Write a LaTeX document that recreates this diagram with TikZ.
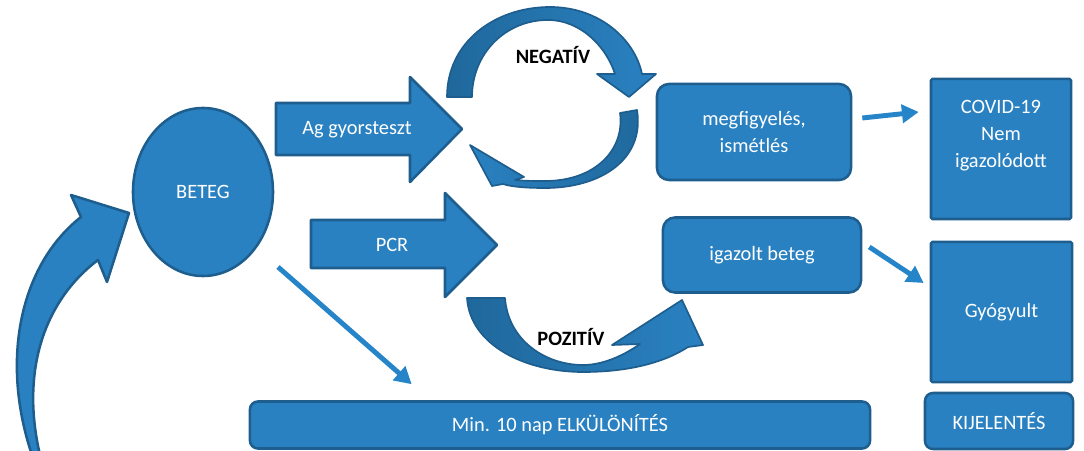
\documentclass[tikz,border=0pt]{standalone}
\usepackage{fontspec}
\setmainfont{Carlito}
\usetikzlibrary{positioning,calc,shapes.geometric,arrows.meta}
\definecolor{covidblue}{RGB}{42,129,193}
\definecolor{covidedge}{RGB}{30,94,142}
\definecolor{coviddark}{RGB}{31,104,156}
\definecolor{covidline}{RGB}{38,132,200}

\begin{document}
\begin{tikzpicture}[x=0.025cm, y=-0.025cm,
    font=\fontsize{14.5}{19}\selectfont,
    bluebox/.style={draw=covidedge, line width=1.8pt, fill=covidblue, text=white, align=center},
    roundbox/.style={bluebox, rounded corners=0.3cm},
    bigarrow/.style={draw=covidedge, line width=1.8pt, fill=covidblue, line join=round},
    turnarrow/.style={draw=covidedge, line width=1.2pt, line join=round, left color=coviddark, right color=covidblue},
    thinarrow/.style={draw=covidline, line width=3.5pt, -{Triangle[length=0.42cm,width=0.45cm]}},
    tag/.style={font=\fontsize{14.5}{19}\selectfont\bfseries}]
    \useasboundingbox (0,0) rectangle (1084,451);

    % Patient
    \node[ellipse, bluebox, minimum width=3.5cm, minimum height=4.2cm, inner sep=0pt] (beteg) at (203,192) {BETEG};

    % Curved arrow back to the patient
    \draw[bigarrow] (32,455) .. controls (0,360) and (20,265) .. (81,217) -- (71,195) -- (129,213)
        -- (107,282) -- (98,260) .. controls (45,300) and (20,370) .. (40,455) -- cycle;

    % Rapid antigen test
    \draw[bigarrow] (276,103) -- (410,103) -- (410,77) -- (462,129) -- (410,182) -- (410,155) -- (276,155) -- cycle;
    \node[text=white] (ag) at (357,130) {Ag gyorsteszt};

    % PCR test
    \draw[bigarrow] (311,220) -- (445,220) -- (445,193) -- (497,245) -- (445,297) -- (445,268) -- (311,268) -- cycle;
    \node[text=white] (pcr) at (392,245) {PCR};

    % Negative loop
    \draw[turnarrow] (447,97) .. controls (447,42) and (495,7) .. (550,7) .. controls (600,7) and (635,40) .. (642,74)
        -- (656,74) -- (629,97) -- (597,74) -- (615,74)
        .. controls (606,46) and (580,20) .. (548,20) .. controls (505,20) and (472,54) .. (472,97) -- cycle;
    \draw[turnarrow, left color=covidblue, right color=coviddark] (637,110) .. controls (645,160) and (600,188) .. (545,188)
        .. controls (528,188) and (512,187) .. (503,184) -- (492,186) -- (470,145) -- (524,177) -- (515,180)
        .. controls (525,181) and (535,181) .. (545,181) .. controls (595,181) and (625,150) .. (620,113) -- cycle;
    \node[tag] (neg) at (553,55) {NEGATÍV};

    % Positive turn
    \draw[turnarrow] (467,298) .. controls (470,345) and (525,372) .. (583,372) .. controls (630,372) and (665,362) .. (688,347)
        -- (703,345) -- (682,300) -- (612,345) -- (640,344)
        .. controls (620,358) and (600,365) .. (583,365) .. controls (545,365) and (508,340) .. (505,298) -- cycle;
    \node[tag] (poz) at (571,337) {POZITÍV};

    % Follow-up and confirmed case
    \node[roundbox, minimum width=4.85cm, minimum height=2.4cm] (megf) at (754,132) {megfigyelés,\\ismétlés};
    \node[roundbox, minimum width=4.95cm, minimum height=1.875cm] (igazolt) at (762,255) {igazolt beteg};

    % Outcomes
    \node[bluebox, rounded corners=1pt, minimum width=3.5cm, minimum height=3.5cm] (covid) at (1001,149) {};
    \node[text=white, align=center, below=0.45cm of covid.north] (covidtxt) {COVID-19\\Nem\\igazolódott};
    \node[bluebox, rounded corners=1pt, minimum width=3.525cm, minimum height=3.5cm] (gyogy) at (1001.5,312) {Gyógyult};
    \node[roundbox, rounded corners=0.2cm, minimum width=3.7cm, minimum height=1.4cm] (kij) at (999,421) {KIJELENTÉS};

    % Isolation
    \node[roundbox, rounded corners=0.2cm, minimum width=15.5cm, minimum height=1.175cm] (elk) at (560,425) {Min. 10 nap ELKÜLÖNÍTÉS};

    % Connectors
    \draw[thinarrow] ($(beteg.center)+(75,75)$) -- ($(elk.north west)+(163,-16)$);
    \draw[thinarrow] ($(megf.east)+(10,-14)$) -- ($(covid.west)+(-11,-37)$);
    \draw[thinarrow] ($(igazolt.east)+(7,-8)$) -- ($(gyogy.west)+(-6,-29)$);
\end{tikzpicture}
\end{document}
